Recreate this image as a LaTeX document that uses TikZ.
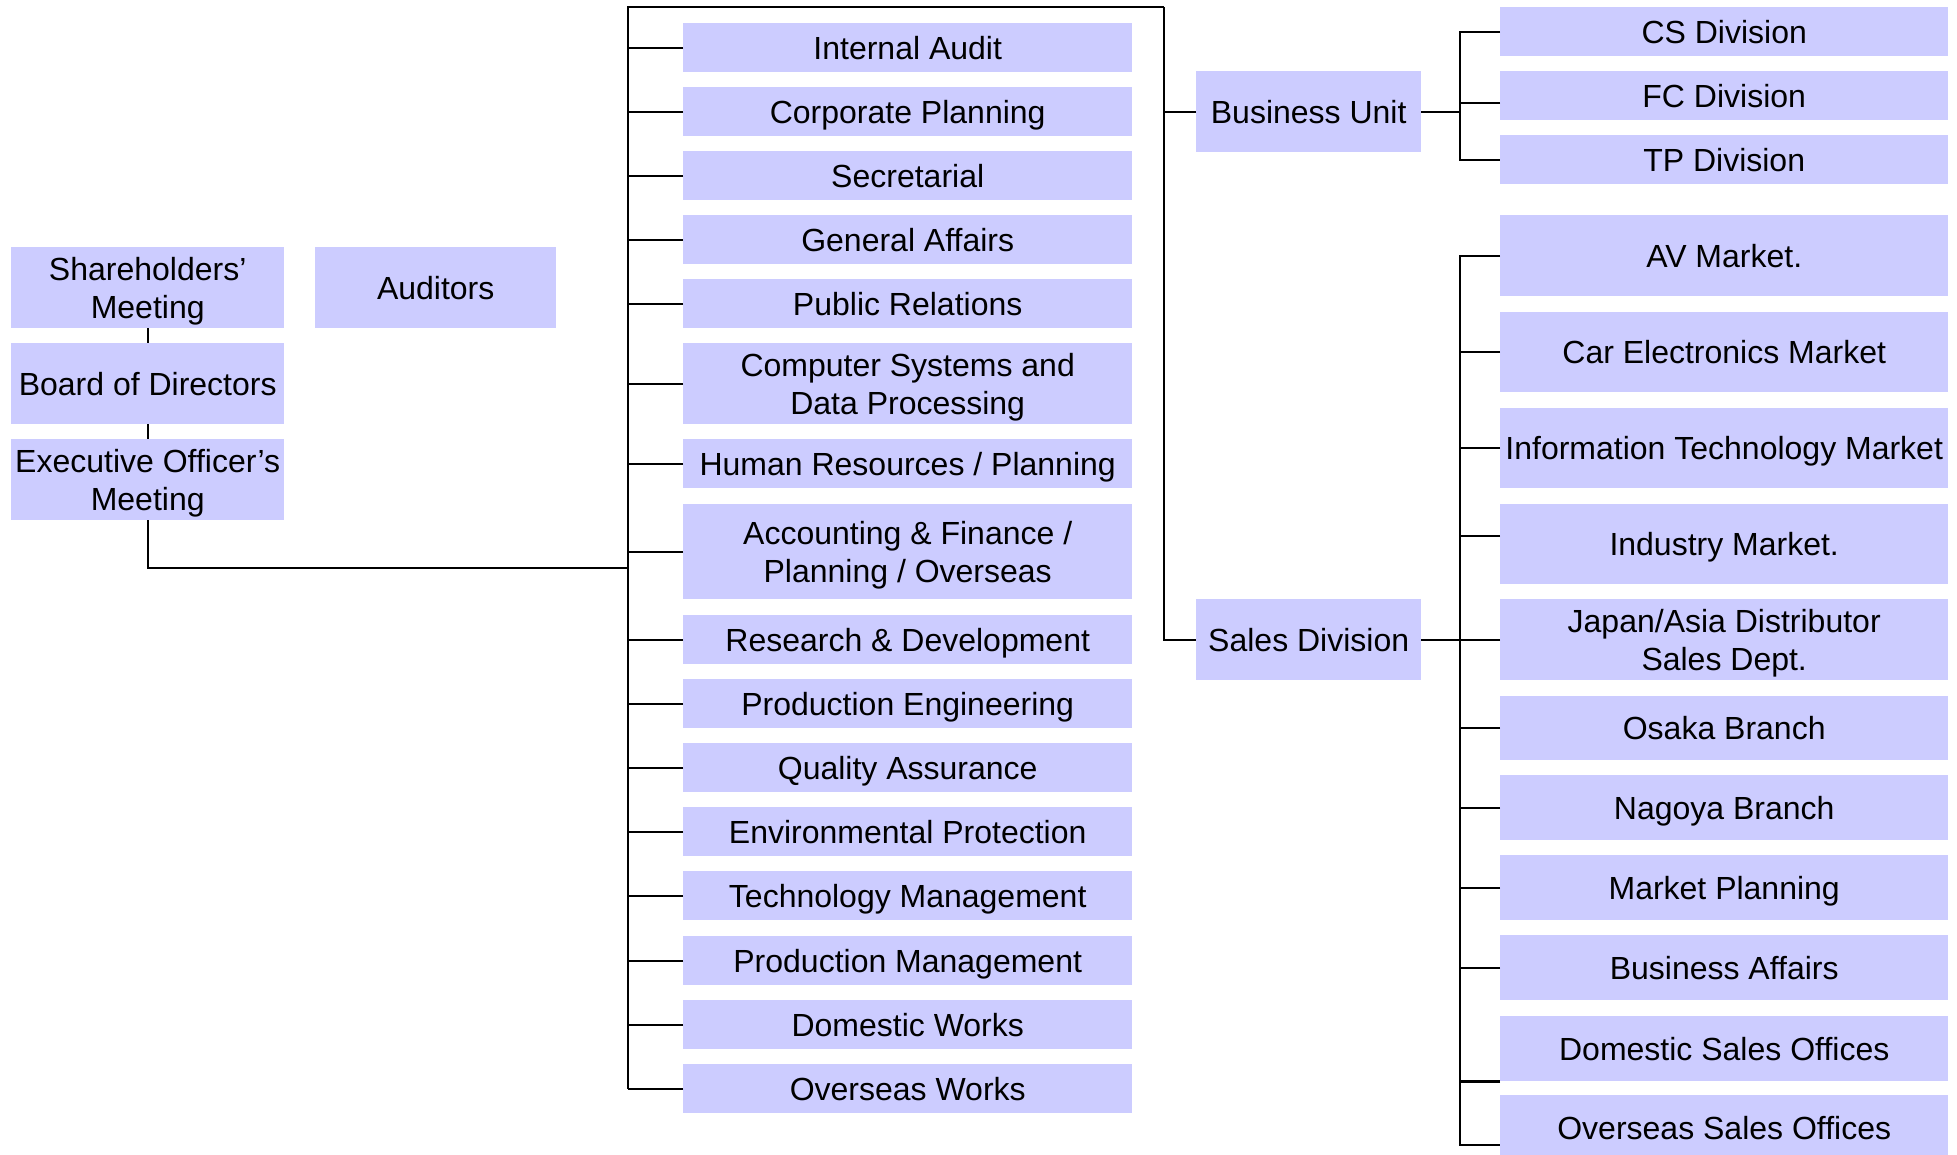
\documentclass[tikz,border=0pt]{standalone}
\usepackage{fontspec}
\setmainfont{Liberation Sans}
\definecolor{boxc}{RGB}{204,204,255}
\newcommand\st{\rule[-7.5pt]{0pt}{38pt}}
\begin{document}
\begin{tikzpicture}[x=1pt,y=-1pt,
  box/.style={fill=boxc, inner sep=0pt, anchor=north west, align=center,
    font=\fontsize{32}{38}\selectfont},
  conn/.style={line width=2.2pt, black}]
\useasboundingbox (0,0) rectangle (1957,1155);
% left column
\node[box, minimum width=273pt, minimum height=81pt] (sh) at (11,247) {\st Shareholders’\\\st Meeting};
\node[box, minimum width=241pt, minimum height=81pt] (au) at (315,247) {\st Auditors};
\node[box, minimum width=273pt, minimum height=81pt] (bd) at (11,343) {\st Board of Directors};
\node[box, minimum width=273pt, minimum height=81pt] (ex) at (11,439) {\st Executive Officer’s\\\st Meeting};
% middle column
\node[box, minimum width=449pt, minimum height=49pt] (m1) at (683,23) {\st Internal Audit};
\node[box, minimum width=449pt, minimum height=49pt] (m2) at (683,87) {\st Corporate Planning};
\node[box, minimum width=449pt, minimum height=49pt] (m3) at (683,151) {\st Secretarial};
\node[box, minimum width=449pt, minimum height=49pt] (m4) at (683,215) {\st General Affairs};
\node[box, minimum width=449pt, minimum height=49pt] (m5) at (683,279) {\st Public Relations};
\node[box, minimum width=449pt, minimum height=81pt] (m6) at (683,343) {\st Computer Systems and\\\st Data Processing};
\node[box, minimum width=449pt, minimum height=49pt] (m7) at (683,439) {\st Human Resources / Planning};
\node[box, minimum width=449pt, minimum height=95pt] (m8) at (683,504) {\st Accounting \& Finance /\\\st Planning / Overseas};
\node[box, minimum width=449pt, minimum height=49pt] (m9) at (683,615) {\st Research \& Development};
\node[box, minimum width=449pt, minimum height=49pt] (m10) at (683,679) {\st Production Engineering};
\node[box, minimum width=449pt, minimum height=49pt] (m11) at (683,743) {\st Quality Assurance};
\node[box, minimum width=449pt, minimum height=49pt] (m12) at (683,807) {\st Environmental Protection};
\node[box, minimum width=449pt, minimum height=49pt] (m13) at (683,871) {\st Technology Management};
\node[box, minimum width=449pt, minimum height=49pt] (m14) at (683,936) {\st Production Management};
\node[box, minimum width=449pt, minimum height=49pt] (m15) at (683,1000) {\st Domestic Works};
\node[box, minimum width=449pt, minimum height=49pt] (m16) at (683,1064) {\st Overseas Works};
% units
\node[box, minimum width=225pt, minimum height=81pt] (bu) at (1196,71) {\st Business Unit};
\node[box, minimum width=225pt, minimum height=81pt] (sd) at (1196,599) {\st Sales Division};
% right column
\node[box, minimum width=448pt, minimum height=49pt] (r1) at (1500,7) {\st CS Division};
\node[box, minimum width=448pt, minimum height=49pt] (r2) at (1500,71) {\st FC Division};
\node[box, minimum width=448pt, minimum height=49pt] (r3) at (1500,135) {\st TP Division};
\node[box, minimum width=448pt, minimum height=81pt] (s1) at (1500,215) {\st AV Market.};
\node[box, minimum width=448pt, minimum height=80pt] (s2) at (1500,312) {\st Car Electronics Market};
\node[box, minimum width=448pt, minimum height=80pt] (s3) at (1500,408) {\st Information Technology Market};
\node[box, minimum width=448pt, minimum height=80pt] (s4) at (1500,504) {\st Industry Market.};
\node[box, minimum width=448pt, minimum height=81pt] (s5) at (1500,599) {\st Japan/Asia Distributor\\\st Sales Dept.};
\node[box, minimum width=448pt, minimum height=64pt] (s6) at (1500,696) {\st Osaka Branch};
\node[box, minimum width=448pt, minimum height=65pt] (s7) at (1500,775) {\st Nagoya Branch};
\node[box, minimum width=448pt, minimum height=65pt] (s8) at (1500,855) {\st Market Planning};
\node[box, minimum width=448pt, minimum height=65pt] (s9) at (1500,935) {\st Business Affairs};
\node[box, minimum width=448pt, minimum height=65pt] (s10) at (1500,1016) {\st Domestic Sales Offices};
\node[box, minimum width=448pt, minimum height=65pt] (s11) at (1500,1095) {\st Overseas Sales Offices};
% bus coordinates
\coordinate (lt) at (628,7);
\coordinate (rt) at (1164,7);
\coordinate (lj) at (628,568);
\coordinate (bb) at (1460,0);
% left connectors
\draw[conn] (sh.south) -- (bd.north);
\draw[conn] (bd.south) -- (ex.north);
\draw[conn] (ex.south) |- (lj);
% middle bus
\draw[conn] (rt) -- (lt) -- (lt |- m16.west);
\foreach \n in {m1,m2,m3,m4,m5,m6,m7,m8,m9,m10,m11,m12,m13,m14,m15,m16}
  \draw[conn] (\n.west) -- (\n.west -| lt);
% right of middle column
\draw[conn] (rt) |- (sd.west);
\draw[conn] (bu.west) -- (bu.west -| rt);
% business unit
\draw[conn] (bu.east) -- (bu.east -| bb);
\draw[conn] (r1.west) -| (bb |- r3.west) -- (r3.west);
\draw[conn] ([yshift=-7pt]r2.west) -- ([yshift=-7pt]r2.west -| bb);
% sales division
\draw[conn] (sd.east) -- (sd.east -| bb);
\coordinate (osb) at ([yshift=-17pt]s11.west);
\draw[conn] (s1.west) -| (bb |- osb) -- (osb);
\foreach \n in {s2,s3,s5,s6,s7,s8,s9}
  \draw[conn] (\n.west) -- (\n.west -| bb);
\draw[conn] ([yshift=8pt]s4.west) -- ([yshift=8pt]s4.west -| bb);
\draw[conn] (s10.south west) -- (s10.south west -| bb);
\end{tikzpicture}
\end{document}
